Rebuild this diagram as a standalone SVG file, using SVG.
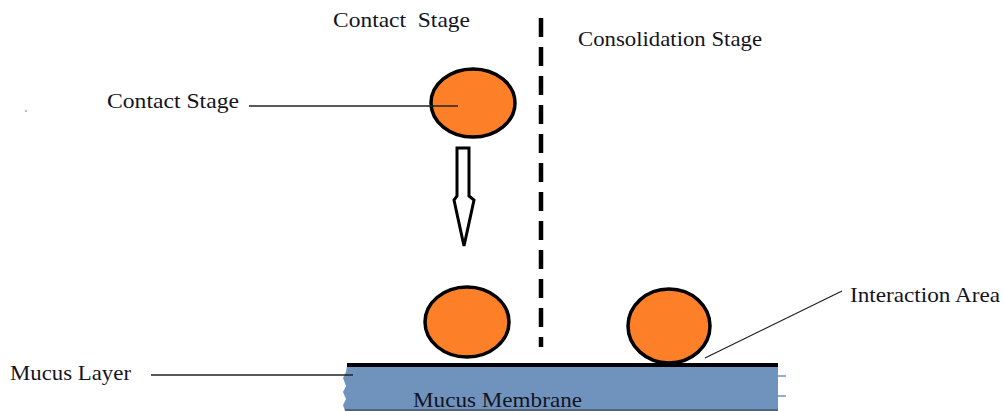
<svg xmlns="http://www.w3.org/2000/svg" width="1003" height="411" viewBox="0 0 1003 411">
<style>
.t{font-family:"Liberation Serif","Times New Roman",serif;font-size:21px;fill:#14141e}
.ball{fill:#fd7f27;stroke:#000;stroke-width:3.5}
.lead{stroke:#222;stroke-width:1.3;fill:none}
</style>
<rect width="1003" height="411" fill="#fff"/>
<g id="membrane">
<path d="M347,366 L778,366 L778,411 L345,411 L343,405 L346,399 L343,392 L346,386 L343,378 L346,372 Z" fill="#7093be"/>
<path d="M778,376 H786 M778,396 H786" stroke="#7093be" stroke-width="1.5"/>
<line x1="347" y1="365" x2="778" y2="365" stroke="#000" stroke-width="4"/>
<line x1="345" y1="410" x2="778" y2="410" stroke="#333" stroke-width="1"/>
<text class="t" x="413" y="407" textLength="169" lengthAdjust="spacingAndGlyphs">Mucus Membrane</text>
</g>
<g id="ball-top"><ellipse class="ball" cx="473" cy="103" rx="42" ry="34"/></g>
<g id="ball-mid"><ellipse class="ball" cx="467" cy="322" rx="42" ry="35"/></g>
<g id="ball-right"><ellipse class="ball" cx="669" cy="326" rx="41" ry="37"/></g>
<g id="arrow"><polygon points="457,148 469,148 469,196 474,200 464,246 454,200 457,196" fill="#fff" stroke="#000" stroke-width="3" stroke-linejoin="miter"/></g>
<g id="divider"><line x1="541" y1="18" x2="541" y2="347" stroke="#000" stroke-width="4.5" stroke-dasharray="19,10"/></g>
<g id="connectors">
<line class="lead" x1="249" y1="106" x2="458" y2="106"/>
<line class="lead" x1="151" y1="375" x2="353" y2="375"/>
<line class="lead" x1="842" y1="291" x2="705" y2="358"/>
</g>
<g id="labels">
<text class="t" x="333" y="27" textLength="137" lengthAdjust="spacingAndGlyphs" xml:space="preserve">Contact  Stage</text>
<text class="t" x="578" y="46" textLength="184" lengthAdjust="spacingAndGlyphs">Consolidation Stage</text>
<text class="t" x="107" y="108" textLength="132" lengthAdjust="spacingAndGlyphs">Contact Stage</text>
<text class="t" x="10" y="380" textLength="121" lengthAdjust="spacingAndGlyphs">Mucus Layer</text>
<text class="t" x="850" y="302" textLength="150" lengthAdjust="spacingAndGlyphs">Interaction Area</text>
</g>
<circle cx="26" cy="111" r="0.8" fill="#3a6fd0"/>
</svg>
